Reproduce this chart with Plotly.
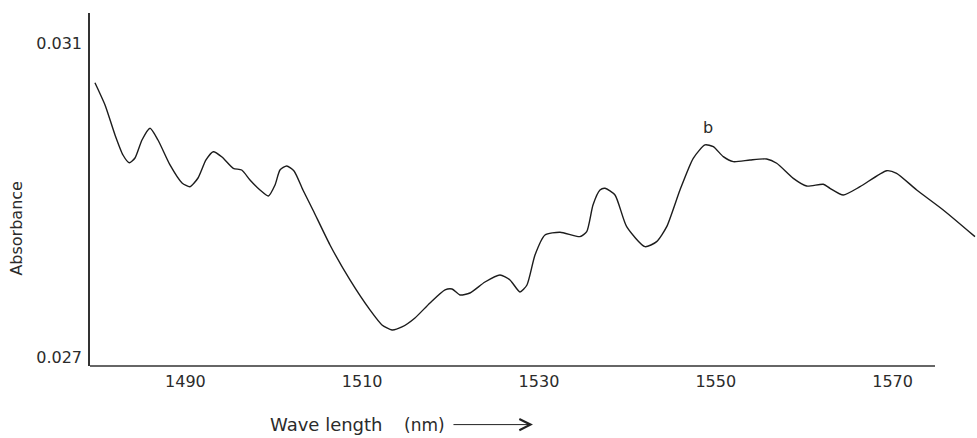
import plotly.graph_objects as go

# Wavelength (nm) and absorbance
wavelength = [1479.77, 1480.91, 1482.04, 1482.94, 1483.65, 1484.30, 1485.09, 1486.00, 1486.90, 1488.26,
              1489.62, 1490.52, 1491.43, 1492.33, 1493.16, 1494.14, 1495.42, 1496.37, 1497.31, 1498.44,
              1499.38, 1500.14, 1500.70, 1501.46, 1502.29, 1503.30, 1504.43, 1506.36, 1508.62, 1510.88,
              1512.24, 1513.37, 1514.50, 1515.97, 1517.67, 1519.37, 1520.16, 1521.06, 1522.19, 1523.89,
              1525.59, 1526.72, 1527.85, 1528.64, 1529.55, 1530.68, 1532.38, 1534.64, 1535.40, 1536.11,
              1536.90, 1537.47, 1538.60, 1539.92, 1541.99, 1543.31, 1544.45, 1545.95, 1547.45, 1548.78,
              1549.72, 1550.85, 1551.98, 1553.87, 1555.76, 1556.89, 1558.77, 1560.28, 1562.16, 1562.92,
              1564.42, 1566.31, 1569.33, 1570.46, 1572.73, 1575.73, 1579.32]
absorbance = [0.030494, 0.030210, 0.029828, 0.029573, 0.029475, 0.029535, 0.029764, 0.029913, 0.029764, 0.029446,
              0.029217, 0.029169, 0.029280, 0.029510, 0.029615, 0.029548, 0.029404, 0.029382, 0.029255, 0.029127,
              0.029051, 0.029191, 0.029382, 0.029433, 0.029369, 0.029127, 0.028873, 0.028427, 0.027981, 0.027599,
              0.027408, 0.027344, 0.027382, 0.027497, 0.027688, 0.027854, 0.027866, 0.027790, 0.027815, 0.027955,
              0.028045, 0.027981, 0.027828, 0.027917, 0.028299, 0.028554, 0.028589, 0.028533, 0.028596, 0.028936,
              0.029127, 0.029149, 0.029064, 0.028660, 0.028405, 0.028469, 0.028660, 0.029127, 0.029531, 0.029701,
              0.029679, 0.029552, 0.029488, 0.029510, 0.029522, 0.029468, 0.029276, 0.029178, 0.029200, 0.029149,
              0.029064, 0.029169, 0.029373, 0.029340, 0.029127, 0.028873, 0.028533]

x_ticks = [1490, 1510, 1530, 1550, 1570]
y_ticks = [0.027, 0.031]
y_tick_text = ["0.027", "0.031"]
peak_label = "b"
peak_pos = (1549.1, 0.02992)

x_range = [1479.21, 1579.55]
y_range = [0.026885, 0.031382]
x_axis_end = 1574.8

FONT = "DejaVu Sans"
TXT = "#2b2b2b"
AX = "#333333"

fig = go.Figure()
fig.add_trace(go.Scatter(x=wavelength, y=absorbance, mode="lines",
                         line=dict(color="#1c1c1c", width=1.4, shape="spline", smoothing=0.6),
                         hoverinfo="x+y", showlegend=False))

fig.update_layout(
    width=977, height=438,
    margin=dict(l=90, r=0, t=13, b=72),
    paper_bgcolor="white", plot_bgcolor="white",
    font=dict(family=FONT, size=16, color=TXT),
    xaxis=dict(range=x_range, tickvals=x_ticks, showgrid=False, zeroline=False,
               showline=False, ticks="", ticklabelstandoff=4, tickfont=dict(size=16, color=TXT)),
    yaxis=dict(range=y_range, tickvals=y_ticks, ticktext=y_tick_text, showgrid=False,
               zeroline=False, showline=True, linecolor=AX, linewidth=1.5, ticks="",
               ticklabelstandoff=3, tickfont=dict(size=16, color=TXT)),
)

# x axis line (ends before the curve does, as in the reference)
fig.add_shape(type="line", xref="x", yref="paper", x0=x_range[0], x1=x_axis_end, y0=0, y1=0,
              line=dict(color=AX, width=1.5))

# peak label
fig.add_annotation(x=peak_pos[0], y=peak_pos[1], text=peak_label, showarrow=False,
                   font=dict(size=16, color=TXT))

# axis titles
fig.add_annotation(xref="paper", yref="paper", x=-0.0823, y=0.392, xanchor="center", yanchor="middle",
                   text="Absorbance", textangle=-90, showarrow=False, font=dict(size=16, color=TXT))
fig.add_annotation(xref="paper", yref="paper", x=0.2007, y=-0.166, xanchor="left", yanchor="middle",
                   text="Wave length", showarrow=False, font=dict(size=18, color=TXT))
fig.add_annotation(xref="paper", yref="paper", x=0.3517, y=-0.166, xanchor="left", yanchor="middle",
                   text="(nm)", showarrow=False, font=dict(size=17, color=TXT))
# arrow after the title
fig.add_annotation(xref="paper", yref="paper", x=0.4994, y=-0.166, ax=-81, ay=0,
                   text="", showarrow=True, arrowhead=5, arrowsize=2.2, arrowwidth=1,
                   arrowcolor="#222222")

fig.write_html("out.html")
